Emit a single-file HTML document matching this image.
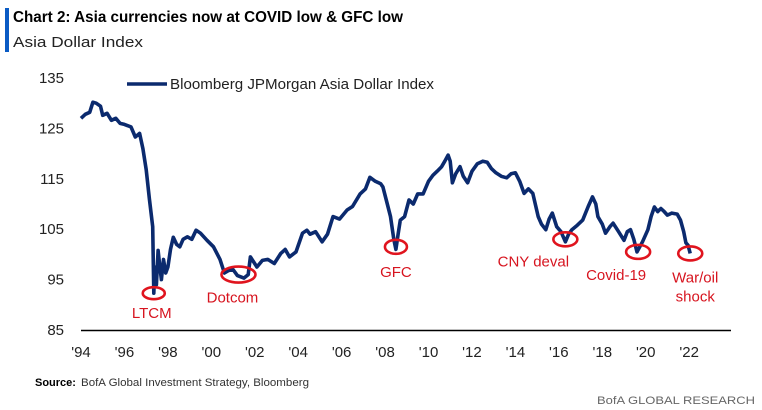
<!DOCTYPE html>
<html><head><meta charset="utf-8">
<style>
body{margin:0;background:#fff;width:762px;height:410px;overflow:hidden;font-family:"Liberation Sans",sans-serif;}
svg{display:block}
</style></head>
<body>
<svg id="chart" width="762" height="410" viewBox="0 0 762 410">
<rect x="5" y="8" width="4" height="44" fill="#0a5bc4"/>
<text x="13" y="22" font-size="15.5" font-weight="bold" fill="#000" textLength="390" lengthAdjust="spacingAndGlyphs">Chart 2: Asia currencies now at COVID low &amp; GFC low</text>
<text x="13" y="47" font-size="14.5" fill="#222" textLength="130" lengthAdjust="spacingAndGlyphs">Asia Dollar Index</text>
<g id="yaxis"></g>
<g id="xaxis"></g>
<line x1="127" y1="84" x2="167" y2="84" stroke="#0b2a6e" stroke-width="3.5"/>
<text x="170" y="89" font-size="14.5" fill="#222" textLength="264" lengthAdjust="spacingAndGlyphs">Bloomberg JPMorgan Asia Dollar Index</text>
<path id="series" fill="none" stroke="#0b2a6e" stroke-width="3.6" stroke-linejoin="round"/>
<g id="annots"></g>
<text x="35" y="386" font-size="11" font-weight="bold" fill="#000">Source:</text>
<text x="81" y="386" font-size="11" fill="#333" textLength="228" lengthAdjust="spacingAndGlyphs">BofA Global Investment Strategy, Bloomberg</text>
<text x="755" y="404" font-size="11" fill="#666" text-anchor="end" textLength="158" lengthAdjust="spacingAndGlyphs">BofA GLOBAL RESEARCH</text>
</svg>
<script>
const yTicks=[85,95,105,115,125,135];
const xTickYears=[1994,1996,1998,2000,2002,2004,2006,2008,2010,2012,2014,2016,2018,2020,2022];
const xTickLabels=["'94","'96","'98","'00","'02","'04","'06","'08","'10","'12","'14","'16","'18","'20","'22"];
const years=[1994.0,1994.2,1994.4,1994.55,1994.7,1994.9,1995.0,1995.2,1995.4,1995.6,1995.8,1996.0,1996.3,1996.5,1996.7,1996.85,1997.0,1997.15,1997.3,1997.35,1997.4,1997.47,1997.55,1997.62,1997.7,1997.8,1997.9,1998.0,1998.12,1998.25,1998.4,1998.55,1998.7,1998.9,1999.1,1999.3,1999.5,1999.8,2000.1,2000.4,2000.6,2000.8,2001.0,2001.2,2001.5,2001.7,2001.8,2001.95,2002.1,2002.35,2002.6,2002.9,2003.2,2003.4,2003.6,2003.9,2004.2,2004.4,2004.55,2004.8,2005.1,2005.35,2005.6,2005.9,2006.25,2006.5,2006.85,2007.1,2007.3,2007.55,2007.8,2007.9,2008.1,2008.25,2008.4,2008.5,2008.6,2008.7,2008.9,2009.1,2009.3,2009.5,2009.75,2010.0,2010.2,2010.4,2010.6,2010.75,2010.9,2011.0,2011.1,2011.25,2011.45,2011.6,2011.8,2012.0,2012.25,2012.5,2012.7,2012.9,2013.1,2013.35,2013.6,2013.8,2014.0,2014.2,2014.4,2014.6,2014.8,2015.05,2015.2,2015.4,2015.55,2015.7,2015.9,2016.1,2016.3,2016.45,2016.6,2016.85,2017.1,2017.35,2017.55,2017.7,2017.8,2018.0,2018.15,2018.35,2018.5,2018.75,2019.0,2019.15,2019.3,2019.45,2019.6,2019.85,2020.1,2020.25,2020.4,2020.55,2020.7,2020.85,2021.0,2021.2,2021.45,2021.6,2021.75,2021.85,2021.95,2022.05];
const values=[127,127.8,128.2,130.2,130,129.4,127.6,128,126.6,127,126,125.8,125.3,123.3,124,121,116.8,111,105.5,92.3,97.5,94,100.8,98,95,99,96.3,97.5,101,103.4,102,101.5,103,103.5,103,104.8,104.2,102.8,101.5,99,96.3,96.8,97,95.8,95.3,96,99.5,98.5,97.5,98.8,99,98.2,100.2,101,99.5,100.5,104.2,104.8,104,104.5,102.5,104,107.5,107,108.8,109.5,112,113,115.3,114.5,114,113.4,110,107.5,103,101,104,106.8,107.5,110.8,110,112,112,114.5,115.7,116.5,117.4,118.5,119.7,118.5,114.2,116,117.4,115.5,114.2,116.5,118,118.5,118.3,117,116.2,115.5,115.2,116,116.2,114.5,112.1,113,112.1,107.5,106,104.9,107,108.2,105.5,104.5,102.5,104,104.9,105.8,106.8,109.5,111.4,110,107.5,106,104.2,105.5,106.2,104.5,102.8,104.5,104.9,103,100.5,102.5,104.9,107.5,109.4,108.5,109.1,108.5,107.8,108.2,108,106.8,104.5,102.3,101.8,100.2];
const annotations=[
 {year:1997.35,value:92.3,rx:11,ry:6,label:["LTCM"],dx:-2,dy:25},
 {year:2001.25,value:96.0,rx:17,ry:8,label:["Dotcom"],dx:-6,dy:28},
 {year:2008.5,value:101.5,rx:11,ry:7,label:["GFC"],dx:0,dy:30},
 {year:2016.3,value:103,rx:12,ry:7,label:["CNY deval"],dx:-32,dy:27},
 {year:2019.65,value:100.5,rx:12,ry:7,label:["Covid-19"],dx:-22,dy:28},
 {year:2022.05,value:100.2,rx:12,ry:7,label:["War/oil","shock"],dx:5,dy:29}
];
const X0=81,PX_PER_YEAR=21.72,Y0=330,PX_PER_UNIT=5.04;
function xs(y){return X0+(y-1994)*PX_PER_YEAR;}
function ys(v){return Y0-(v-85)*PX_PER_UNIT;}
const NS="http://www.w3.org/2000/svg";
const yg=document.getElementById('yaxis');
yTicks.forEach(function(t){
 const tx=document.createElementNS(NS,'text');
 tx.setAttribute('x',64);tx.setAttribute('y',ys(t)+5);
 tx.setAttribute('text-anchor','end');tx.setAttribute('font-size','15');tx.setAttribute('fill','#222');
 
 
 tx.textContent=t;yg.appendChild(tx);
});
const xg=document.getElementById('xaxis');
const ax=document.createElementNS(NS,'line');
ax.setAttribute('x1',81);ax.setAttribute('x2',731);ax.setAttribute('y1',Y0+0.5);ax.setAttribute('y2',Y0+0.5);
ax.setAttribute('stroke','#000');ax.setAttribute('stroke-width','1.5');


xg.appendChild(ax);
xTickYears.forEach(function(yr,i){
 const tx=document.createElementNS(NS,'text');
 tx.setAttribute('x',xs(yr));tx.setAttribute('y',357);
 tx.setAttribute('text-anchor','middle');tx.setAttribute('font-size','15');tx.setAttribute('fill','#222');
 
 
 tx.textContent=xTickLabels[i];xg.appendChild(tx);
});
let d='';
years.forEach(function(yr,i){d+=(i?'L':'M')+xs(yr).toFixed(1)+' '+ys(values[i]).toFixed(1);});
document.getElementById('series').setAttribute('d',d);
const ag=document.getElementById('annots');
annotations.forEach(function(a){
 const cx=xs(a.year),cy=ys(a.value);
 const e=document.createElementNS(NS,'ellipse');
 e.setAttribute('cx',cx);e.setAttribute('cy',cy);e.setAttribute('rx',a.rx);e.setAttribute('ry',a.ry);
 e.setAttribute('fill','none');e.setAttribute('stroke','#e0141e');e.setAttribute('stroke-width','2.6');
 
 
 ag.appendChild(e);
 a.label.forEach(function(l,j){
  const t=document.createElementNS(NS,'text');
  t.setAttribute('x',cx+a.dx);t.setAttribute('y',cy+a.dy+j*19);
  t.setAttribute('text-anchor','middle');t.setAttribute('font-size','15');t.setAttribute('fill','#d7141f');
  
  
  t.textContent=l;ag.appendChild(t);
 });
});
</script>
</body></html>
